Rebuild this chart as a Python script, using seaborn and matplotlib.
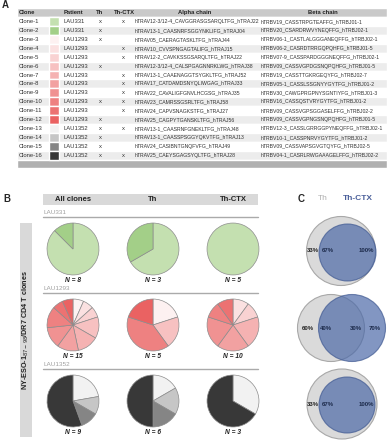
import seaborn as sns
import matplotlib.pyplot as plt
from matplotlib.patches import Circle

# table data (panel A)
clones = ["Clone-%d" % i for i in range(1, 17)]
patients = ["LAU331", "LAU331"] + ["LAU1293"] * 10 + ["LAU1352"] * 4
in_th = [1, 1, 1, 0, 0, 1, 0, 0, 0, 1, 0, 1, 1, 1, 1, 1]
in_ctx = [1, 0, 0, 1, 1, 0, 1, 1, 1, 1, 1, 0, 1, 0, 0, 1]
alpha_chain = [
    "hTRAV12-3/12-4_CAVGGRASGSARQLTFG_hTRAJ22",
    "hTRAV13-1_CAASNRFSGGYNKLIFG_hTRAJ04",
    "hTRAV05_CAERAGTASKLTFG_hTRAJ44",
    "hTRAV10_CVVSPNGAGTALIFG_hTRAJ15",
    "hTRAV12-2_CAVKKSSGSARQLTFG_hTRAJ22",
    "hTRAV12-3/12-4_CALSPGAGNNRKLWG_hTRAJ38",
    "hTRAV13-1_CAAENAGGTSYGKLTFG_hTRAJ52",
    "hTRAV17_CATDAMDSNYQLIWGAG_hTRAJ33",
    "hTRAV22_CAVALIGFGNVLHCGSG_hTRAJ35",
    "hTRAV23_CAMRSSGSRLTFG_hTRAJ58",
    "hTRAV24_CAPVSNAGKSTFG_hTRAJ27",
    "hTRAV25_CAGPYTGANSKLTFG_hTRAJ56",
    "hTRAV13-1_CAASRNFGNEKLTFG_hTRAJ48",
    "hTRAV13-1_CAASSPSGGYQKVTFG_hTRAJ13",
    "hTRAV24_CASIBNTGNQFVFG_hTRAJ49",
    "hTRAV25_CAEYSGAGSYQLTFG_hTRAJ28",
]
beta_chain = [
    "hTRBV19_CASSTRPGTEAFFG_hTRBJ01-1",
    "hTRBV20_CSARDRWVYNEQFFG_hTRBJ02-1",
    "hTRBV06-1_CASTLALGGGANEQFFG_hTRBJ02-1",
    "hTRBV06-2_CASRDTRRGQPQHFG_hTRBJ01-5",
    "hTRBV07-9_CASSPARDGGGNEQFFG_hTRBJ02-1",
    "hTRBV09_CASSVGPDGSNQPQHFG_hTRBJ01-5",
    "hTRBV19_CASSTTGKRGEQYFG_hTRBJ02-7",
    "hTRBV05-1_CASSLSSGNYYGYTFG_hTRBJ01-2",
    "hTRBV30_CAWGPRGPNYSGNTIYFG_hTRBJ01-3",
    "hTRBV16_CASSQSTVRYGYTFG_hTRBJ01-2",
    "hTRBV09_CASSVGPSGGASELFFG_hTRBJ02-2",
    "hTRBV09_CASSVGPNGSNQPQHFG_hTRBJ01-5",
    "hTRBV12-3_CASSLGRRGGPYNEQFFG_hTRBJ02-1",
    "hTRBV10-1_CASSPNRVYGYTFG_hTRBJ01-2",
    "hTRBV09_CASSVAPSGVGTQYFG_hTRBJ02-5",
    "hTRBV04-1_CASRLRWGAAAGELFFG_hTRBJ02-2",
]

# pie data (panel B): cells per clone
pie_patients = ["LAU331", "LAU1293", "LAU1352"]
pie_groups = ["All clones", "Th", "Th-CTX"]
lau331_clones = [1, 2]
lau331_all = [7, 1]
lau331_th = [2, 1]
lau331_ctx = [5, 0]
lau1293_clones = [3, 4, 5, 6, 7, 8, 9, 10, 11, 12]
lau1293_all = [1, 1, 1, 2, 2, 2, 2, 2, 1, 1]
lau1293_th = [1, 0, 0, 1, 0, 0, 0, 2, 0, 1]
lau1293_ctx = [0, 1, 1, 0, 2, 2, 2, 1, 1, 0]
lau1352_clones = [13, 14, 15, 16]
lau1352_all = [2, 1, 1, 5]
lau1352_th = [1, 1, 1, 3]
lau1352_ctx = [1, 0, 0, 2]

# venn data (panel C), percentages
venn_th_only = [33, 60, 33]
venn_shared_th = [67, 40, 67]
venn_shared_ctx = [100, 30, 100]
venn_ctx_only = [0, 70, 0]

sns.set_style("white")
plt.rcParams['font.family'] = ['Liberation Sans', 'DejaVu Sans']

# clone colours
reds = [sns.blend_palette(["#fdf1f1", "#ea6262"], 10)[i] for i in range(10)]
clone_colors = ["#c4e0b0", "#a3cf88"] + reds + ["#f2f2f2", "#c6c6c6", "#858585", "#383838"]

W, H = 390, 440
fig = plt.figure(figsize=(3.9, 4.4), dpi=100)
bg = fig.add_axes([0, 0, 1, 1])
bg.set_xlim(0, W)
bg.set_ylim(H, 0)
bg.axis("off")

# ---- panel A table
bg.text(2, 5, "A", fontsize=7, fontweight="bold", va="center")
tx0, ty0, tw, th_ = 17, 8.3, 370, 160.2
ax_t = fig.add_axes([tx0 / W, 1 - (ty0 + th_) / H, tw / W, th_ / H])
ax_t.set_xlim(0, tw)
ax_t.set_ylim(18, 0)
ax_t.axis("off")
rows = list(range(18))
stripe = ["#c9c9c9"] + ["#ffffff" if i % 2 == 1 else "#ececec" for i in range(1, 17)] + ["#b0b0b0"]
ax_t.barh([r + 0.5 for r in rows], tw, left=0, height=1, color=stripe)
ax_t.barh([i + 1.5 for i in range(16)], 10, left=32, height=1, color=clone_colors)

hdr = dict(fontsize=4.2, fontweight="bold", va="center", color="#222222")
ax_t.text(2, 0.5, "Clone", ha="left", **hdr)
ax_t.text(56, 0.5, "Patient", ha="center", **hdr)
ax_t.text(83, 0.5, "Th", ha="center", **hdr)
ax_t.text(107, 0.5, "Th-CTX", ha="center", **hdr)
ax_t.text(178, 0.5, "Alpha chain", ha="center", **hdr)
ax_t.text(306, 0.5, "Beta chain", ha="center", **hdr)
cell = dict(fontsize=4.2, va="center", color="#333333")
for i in range(16):
    y = i + 1.5
    ax_t.text(2, y, clones[i], ha="left", **cell)
    ax_t.text(47, y, patients[i], ha="left", **cell)
    if in_th[i]:
        ax_t.text(83, y, "x", ha="center", **cell)
    if in_ctx[i]:
        ax_t.text(106, y, "x", ha="center", **cell)
    ax_t.text(118, y, alpha_chain[i], ha="left", fontsize=3.7, va="center", color="#333333")
    ax_t.text(244, y, beta_chain[i], ha="left", fontsize=3.7, va="center", color="#333333")

# ---- panel B pies
bg.text(3, 199, "B", fontsize=7, fontweight="bold", va="center")
bg.fill_between([43, 258], 194, 205, color="#d9d9d9", lw=0)
col_x = [73, 153, 233]
row_y = [249, 325, 401]
for cx, g in zip(col_x, pie_groups):
    bg.text(cx, 199.5, g, fontsize=5.5, fontweight="bold", ha="center", va="center", color="#222222")

bg.fill_between([20, 32], 223, 437, color="#d9d9d9", lw=0)
bg.text(26, 330, r"NY-ESO-1$_{87-98}$/DR7 CD4 T clones", rotation=90, fontsize=5.2,
        fontweight="bold", ha="center", va="center", color="#222222")

pie_sets = [
    (lau331_clones, [lau331_all, lau331_th, lau331_ctx]),
    (lau1293_clones, [lau1293_all, lau1293_th, lau1293_ctx]),
    (lau1352_clones, [lau1352_all, lau1352_th, lau1352_ctx]),
]
r = 26
for ri, (pname, (cl, sets)) in enumerate(zip(pie_patients, pie_sets)):
    cy = row_y[ri]
    bg.text(43, cy - 36, pname, fontsize=4.6, color="#a0a0a0", ha="left", va="center")
    bg.plot([43, 258], [cy - 32, cy - 32], color="#aaaaaa", lw=1)
    for ci, vals in enumerate(sets):
        cx = col_x[ci]
        v = [x for x in vals if x > 0]
        cols = [clone_colors[c - 1] for c, x in zip(cl, vals) if x > 0]
        ax = fig.add_axes([(cx - 27) / W, 1 - (cy + 27) / H, 54 / W, 54 / H])
        ax.pie(v, colors=cols, startangle=90, counterclock=False, radius=1,
               wedgeprops=dict(edgecolor="#8c8c8c", linewidth=0.5))
        ax.set_xlim(-1.04, 1.04)
        ax.set_ylim(-1.04, 1.04)
        ax.set_aspect("equal")
        ax.axis("off")
        bg.text(cx, cy + 32, "N = %d" % sum(vals), fontsize=4.8, fontweight="bold",
                fontstyle="italic", ha="center", va="center", color="#222222")

# ---- panel C venns
bg.text(298, 199, "C", fontsize=7, fontweight="bold", va="center")
bg.text(323, 198, "Th", fontsize=6, color="#b0b0b0", ha="center", va="center")
bg.text(358, 198, "Th-CTX", fontsize=6, fontweight="bold", color="#4a5f9a", ha="center", va="center")
venn_geom = [
    ((341, 251, 34.5), (347.5, 252.5, 28.5), [313, 328, 366, 0]),
    ((331, 328, 33.5), (352, 328, 33.5), [308, 326, 356, 375]),
    ((342, 404, 35), (347, 405, 28), [313, 328, 366, 0]),
]
for i, (g, b, lx) in enumerate(venn_geom):
    bg.add_patch(Circle((g[0], g[1]), g[2], facecolor="#dadada", edgecolor="#a8a8a8", lw=0.8))
    bg.add_patch(Circle((b[0], b[1]), b[2], facecolor="#4d6aa8", alpha=0.7, edgecolor="#3f5891", lw=0.8))
    y = g[1]
    lab = dict(fontsize=4.3, fontweight="bold", ha="center", va="center")
    bg.text(lx[0], y, "%d%%" % venn_th_only[i], color="#222222", **lab)
    bg.text(lx[1], y, "%d%%" % venn_shared_th[i], color="#1c2a4a", **lab)
    bg.text(lx[2], y, "%d%%" % venn_shared_ctx[i], color="#1c2a4a", **lab)
    if venn_ctx_only[i] > 0:
        bg.text(lx[3], y, "%d%%" % venn_ctx_only[i], color="#1c2a4a", **lab)

fig.savefig("out.png", dpi=100)
